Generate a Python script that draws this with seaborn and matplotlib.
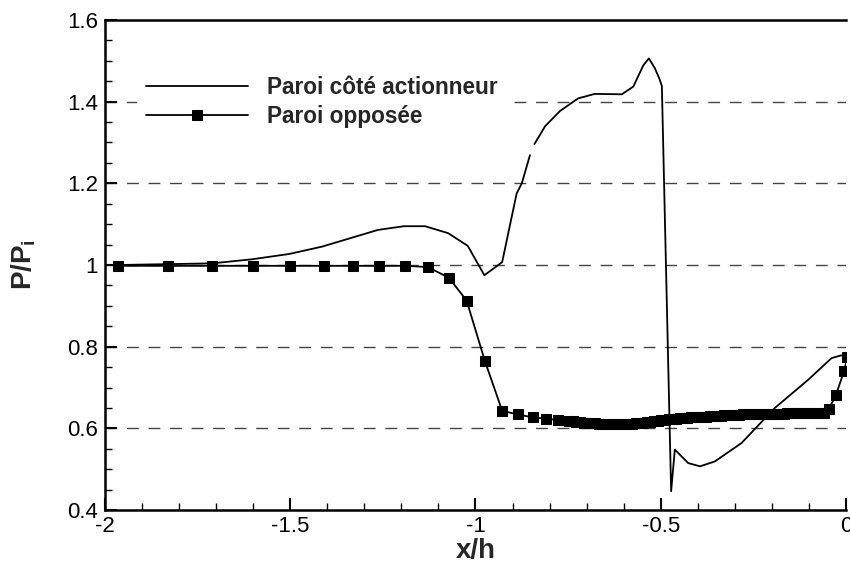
import matplotlib.pyplot as plt
import seaborn as sns

# Paroi cote actionneur (solid line), two pieces because of the small gap near x/h=-0.85
act_x1 = [-1.965, -1.711, -1.603, -1.503, -1.414, -1.333, -1.263, -1.193, -1.136,
          -1.074, -1.021, -0.976, -0.928, -0.889, -0.875, -0.853]
act_y1 = [1.000, 1.004, 1.014, 1.027, 1.045, 1.067, 1.086, 1.095, 1.095,
          1.078, 1.047, 0.975, 1.007, 1.175, 1.200, 1.269]
act_x2 = [-0.841, -0.812, -0.772, -0.723, -0.678, -0.605, -0.574, -0.547, -0.532,
          -0.516, -0.504, -0.497, -0.472, -0.462, -0.426, -0.394, -0.354, -0.282,
          -0.192, -0.102, -0.039, -0.012, 0.000]
act_y2 = [1.296, 1.340, 1.377, 1.408, 1.419, 1.418, 1.437, 1.489, 1.506,
          1.482, 1.457, 1.438, 0.446, 0.548, 0.515, 0.507, 0.519, 0.564,
          0.650, 0.719, 0.772, 0.779, 0.772]

# Paroi opposee (line + square markers), markers get very dense downstream
opp_x = [-1.965, -1.83, -1.71, -1.60, -1.50, -1.41, -1.33, -1.26, -1.19, -1.129,
         -1.072, -1.024, -0.975, -0.928, -0.886, -0.846, -0.811, -0.776,
         -0.748, -0.738, -0.728, -0.718, -0.708, -0.698, -0.688, -0.678, -0.668, -0.658,
         -0.648, -0.638, -0.628, -0.618, -0.608, -0.598, -0.588, -0.578, -0.568, -0.558,
         -0.548, -0.538, -0.528, -0.518, -0.508, -0.498, -0.488, -0.478, -0.468, -0.458,
         -0.448, -0.438, -0.428, -0.418, -0.408, -0.398, -0.388, -0.378, -0.368, -0.358,
         -0.348, -0.338, -0.328, -0.318, -0.308, -0.298, -0.288, -0.278, -0.268, -0.258,
         -0.248, -0.238, -0.228, -0.218, -0.208, -0.198, -0.188, -0.178, -0.168, -0.158,
         -0.148, -0.138, -0.128, -0.118, -0.108, -0.098, -0.088, -0.078, -0.068, -0.060,
         -0.046, -0.027, -0.005, 0.004]
opp_y = [0.998, 0.998, 0.998, 0.998, 0.998, 0.998, 0.998, 0.998, 0.998, 0.995,
         0.969, 0.913, 0.766, 0.643, 0.634, 0.627, 0.624, 0.620,
         0.618, 0.617, 0.616, 0.615, 0.614, 0.613, 0.613, 0.612, 0.611, 0.611,
         0.610, 0.610, 0.610, 0.610, 0.610, 0.610, 0.611, 0.611, 0.612, 0.613,
         0.614, 0.615, 0.616, 0.617, 0.619, 0.620, 0.621, 0.622, 0.623, 0.624,
         0.625, 0.625, 0.626, 0.627, 0.628, 0.628, 0.629, 0.629, 0.630, 0.630,
         0.631, 0.631, 0.632, 0.632, 0.633, 0.633, 0.633, 0.634, 0.634, 0.634,
         0.635, 0.635, 0.635, 0.635, 0.636, 0.636, 0.636, 0.636, 0.636, 0.637,
         0.637, 0.637, 0.637, 0.637, 0.637, 0.637, 0.638, 0.638, 0.638, 0.638,
         0.648, 0.682, 0.741, 0.775]

labels = ['Paroi côté actionneur', 'Paroi opposée']
y_grid = [0.6, 0.8, 1.0, 1.2, 1.4]

sns.set_style('ticks')
plt.rcParams['font.family'] = ['Liberation Sans', 'DejaVu Sans']
plt.rcParams['mathtext.fontset'] = 'custom'
plt.rcParams['mathtext.bf'] = 'Liberation Sans:bold'
plt.rcParams['mathtext.rm'] = 'Liberation Sans'

fig = plt.figure(figsize=(8.5, 5.66), dpi=100)
ax = fig.add_axes([0.1235, 0.0989, 0.8718, 0.8658])

for yg in y_grid:
    ax.axhline(yg, color='#444444', lw=1.0, dashes=(8.5, 7), zorder=0)

sns.lineplot(x=act_x1, y=act_y1, color='k', lw=1.3, sort=False, estimator=None,
             label=labels[0], ax=ax)
sns.lineplot(x=act_x2, y=act_y2, color='k', lw=1.3, sort=False, estimator=None,
             label='_nolegend_', ax=ax)
sns.lineplot(x=opp_x, y=opp_y, color='k', lw=1.3, sort=False, estimator=None,
             marker='s', markersize=6.5, markeredgecolor='k', markerfacecolor='k',
             label=labels[1], ax=ax)

ax.set_xlim(-2, 0)
ax.set_ylim(0.4, 1.6)
ax.set_xticks([-2, -1.5, -1, -0.5, 0])
ax.set_xticklabels(['-2', '-1.5', '-1', '-0.5', '0'])
ax.set_yticks([0.4, 0.6, 0.8, 1.0, 1.2, 1.4, 1.6])
ax.set_yticklabels(['0.4', '0.6', '0.8', '1', '1.2', '1.4', '1.6'])
ax.minorticks_on()
ax.xaxis.set_minor_locator(plt.MultipleLocator(0.1))
ax.yaxis.set_minor_locator(plt.MultipleLocator(0.05))
ax.tick_params(which='major', direction='in', length=8.5, width=1.5,
               labelsize=16, pad=5, colors='k')
ax.tick_params(which='minor', direction='in', length=5, width=1.0, colors='k')
ax.tick_params(axis='x', which='major', pad=4)

for s in ['left', 'bottom', 'top']:
    ax.spines[s].set_linewidth(1.8)
    ax.spines[s].set_color('k')
ax.spines['right'].set_visible(False)

ax.set_xlabel('x/h', fontsize=20, fontweight='bold', labelpad=1)
ax.set_ylabel(r'$\mathbf{P/P_i}$', fontsize=20, labelpad=21)

leg = ax.legend(loc='upper left', bbox_to_anchor=(0.043, 0.904), fontsize=16.3,
                handlelength=4.5, handletextpad=0.84, labelspacing=0.25,
                frameon=True, facecolor='white', edgecolor='none', framealpha=1,
                borderpad=0.4, numpoints=1, borderaxespad=0)
for t in leg.get_texts():
    t.set_fontweight('bold')

fig.savefig('out.png', dpi=100)
